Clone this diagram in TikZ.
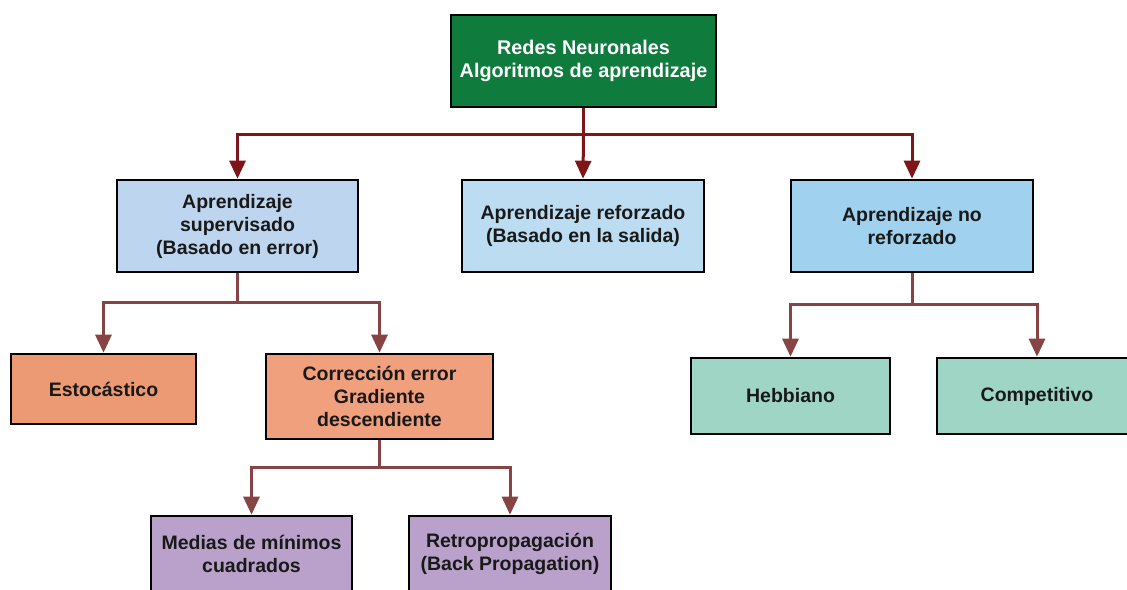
\documentclass[tikz,border=0pt]{standalone}
\usepackage{fontspec}
\setmainfont{Liberation Sans}
\usetikzlibrary{arrows.meta}

\definecolor{rootgreen}{HTML}{0F7B3D}
\definecolor{supblue}{HTML}{BDD5EE}
\definecolor{refblue}{HTML}{BCDCF2}
\definecolor{norfblue}{HTML}{A0D1EF}
\definecolor{estorange}{HTML}{EC9A73}
\definecolor{cororange}{HTML}{F0A07D}
\definecolor{lilac}{HTML}{BAA1CB}
\definecolor{mint}{HTML}{9FD5C4}
\definecolor{darkred}{HTML}{7E1518}
\definecolor{brownred}{HTML}{884444}

\tikzset{
  box/.style={draw=black, line width=2.6pt, rectangle, align=center, inner sep=0pt,
    text=black!90, font=\bfseries\fontsize{19.5}{23}\selectfont},
  toplink/.style={draw=darkred, line width=3pt},
  sublink/.style={draw=brownred, line width=3pt},
  tip/.style={-{Triangle[width=16pt,length=18pt]}},
}

\begin{document}
\begin{tikzpicture}[x=1pt,y=-1pt]
\useasboundingbox (0,0) rectangle (1127,589);
\clip (0,0) rectangle (1127,589);

% root
\node[box, fill=rootgreen, text=white, minimum width=265, minimum height=92,
  font=\bfseries\fontsize{19.8}{23}\selectfont]
  (root) at (583.5,61) {Redes Neuronales\\Algoritmos de aprendizaje};

% second level
\node[box, fill=supblue, minimum width=241, minimum height=92]
  (sup) at (237.5,226) {Aprendizaje\\supervisado\\(Basado en error)};
\node[box, fill=refblue, minimum width=242, minimum height=92]
  (ref) at (583,226) {Aprendizaje reforzado\\(Basado en la salida)};
\node[box, fill=norfblue, minimum width=242, minimum height=92]
  (norf) at (912,226) {Aprendizaje no\\reforzado};

% supervised branch
\node[box, fill=estorange, minimum width=185, minimum height=70]
  (est) at (103.5,389) {Estocástico};
\node[box, fill=cororange, minimum width=227, minimum height=85]
  (cor) at (379.5,396.5) {Corrección error\\Gradiente\\descendiente};
\node[box, fill=lilac, minimum width=201, minimum height=76]
  (lms) at (251.5,554) {Medias de mínimos\\cuadrados};
\node[box, fill=lilac, minimum width=202, minimum height=76]
  (bp) at (510,554) {Retropropagación\\(Back Propagation)};

% unsupervised branch
\node[box, fill=mint, minimum width=199, minimum height=76]
  (hebb) at (790.5,396) {Hebbiano};
\node[box, fill=mint, minimum width=200, minimum height=76]
  (comp) at (1037,396) {Competitivo};

% junction points
\coordinate (j0) at (583.5,134);
\coordinate (j1) at (237.5,302);
\coordinate (j2) at (379.5,467);
\coordinate (j3) at (912,304);

% connectors
\draw[toplink] (root.south) -- (j0);
\draw[toplink, tip] (j0) -| (sup.north);
\draw[toplink, tip] (j0) -- (ref.north);
\draw[toplink, tip] (j0) -| (norf.north);

\draw[sublink] (sup.south) -- (j1);
\draw[sublink, tip] (j1) -| (est.north);
\draw[sublink, tip] (j1) -| (cor.north);

\draw[sublink] (cor.south) -- (j2);
\draw[sublink, tip] (j2) -| (lms.north);
\draw[sublink, tip] (j2) -| (bp.north);

\draw[sublink] (norf.south) -- (j3);
\draw[sublink, tip] (j3) -| (hebb.north);
\draw[sublink, tip] (j3) -| (comp.north);
\end{tikzpicture}
\end{document}
